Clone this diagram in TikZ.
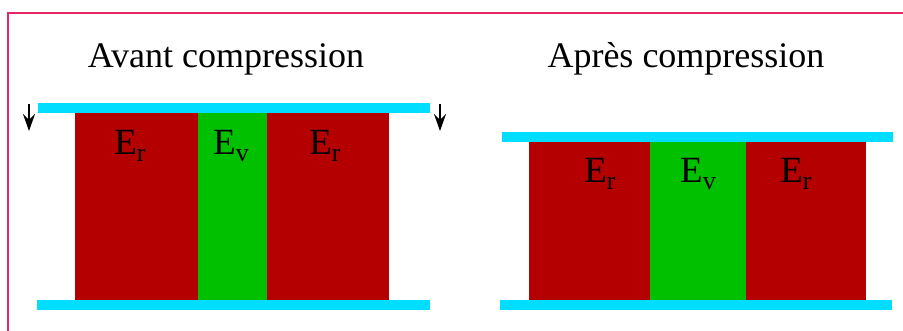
\documentclass[tikz,border=0pt]{standalone}
\usepackage{fontspec}
\setmainfont{Liberation Serif}
\usetikzlibrary{arrows.meta}
\definecolor{brick}{RGB}{180,0,0}
\definecolor{leaf}{RGB}{0,192,0}
\definecolor{sky}{RGB}{0,221,255}
\definecolor{frame}{RGB}{228,40,100}
\newcommand{\lab}[1]{E{\fontsize{26}{26}\selectfont\raisebox{-6.5pt}{#1}}}
\tikzset{
  plate/.style={fill=sky},
  redblk/.style={fill=brick},
  greenblk/.style={fill=leaf},
  title/.style={anchor=base, inner sep=0pt, font=\fontsize{36}{36}\selectfont},
  elab/.style={anchor=base, inner sep=0pt, font=\fontsize{37}{37}\selectfont},
  push/.style={line width=2.2pt, -{Stealth[length=17pt,width=12pt,inset=6pt]}}
}
\begin{document}
\begin{tikzpicture}[x=1pt,y=-1pt]
\clip (0,0) rectangle (903,331);
\fill[white] (0,0) rectangle (903,331);
\draw[frame, line width=2pt] (8.3,12.7) rectangle (960,400);
% titles
\node[title] (t1) at (226,68) {Avant compression};
\node[title] (t2) at (686,68) {Après compression};
% left assembly
\fill[redblk] (75,112) rectangle (198,300);
\fill[greenblk] (198,112) rectangle (267,300);
\fill[redblk] (267,112) rectangle (389,300);
\fill[plate] (38,103) rectangle (430,113);
\fill[plate] (37,300) rectangle (430,310);
\node[elab] (l1) at (130,155) {\lab{r}};
\node[elab] (l2) at (231,155) {\lab{v}};
\node[elab] (l3) at (325,155) {\lab{r}};
\coordinate (a1s) at (29,104);
\coordinate (a1e) at (29,131);
\coordinate (a2s) at (440,104);
\coordinate (a2e) at (440,131);
\draw[push] (a1s) -- (a1e);
\draw[push] (a2s) -- (a2e);
% right assembly
\fill[redblk] (529,141) rectangle (650,300);
\fill[greenblk] (650,141) rectangle (746,300);
\fill[redblk] (746,141) rectangle (866,300);
\fill[plate] (502,132) rectangle (893,142);
\fill[plate] (500,300) rectangle (892,310);
\node[elab] (r1) at (600,183) {\lab{r}};
\node[elab] (r2) at (698,183) {\lab{v}};
\node[elab] (r3) at (796,183) {\lab{r}};
\end{tikzpicture}
\end{document}
